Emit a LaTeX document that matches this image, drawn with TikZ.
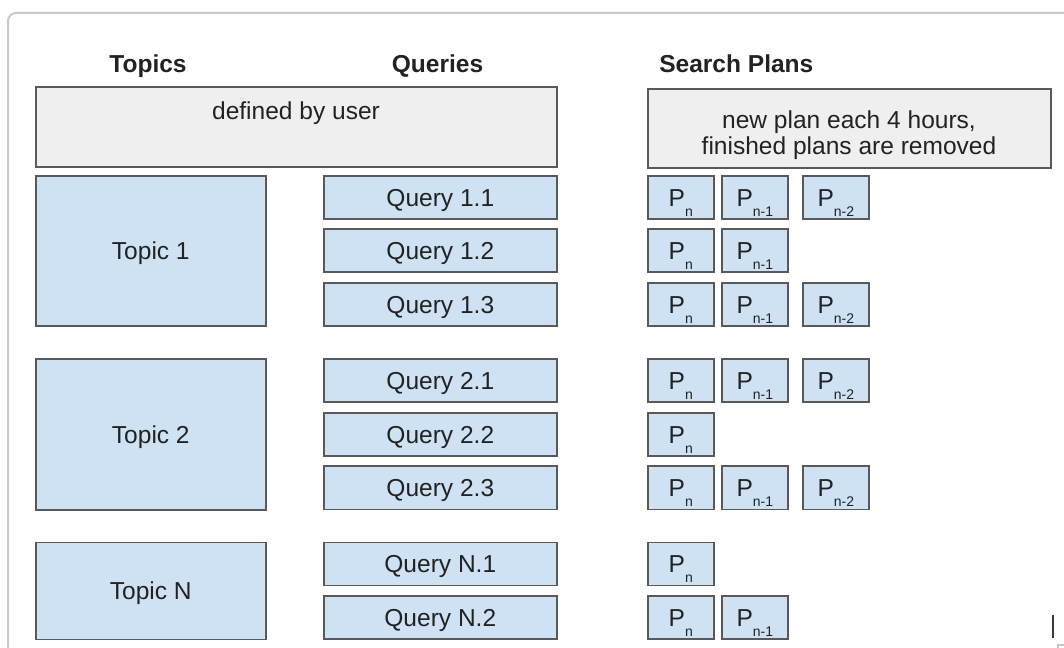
\documentclass[tikz,border=0pt]{standalone}
\usepackage{fontspec}
\setmainfont{Liberation Sans}
\definecolor{boxblue}{HTML}{CFE2F3}
\definecolor{boxgray}{HTML}{EFEFEF}
\definecolor{edge}{HTML}{595959}
\definecolor{ink}{HTML}{222222}
\definecolor{frame}{HTML}{C8C8C8}
% box with top-left corner (#3,#4), size #5 x #6 in pixel units
\newcommand\rbox[7]{\node[#1, anchor=north west, minimum width={#5*0.75pt}, minimum height={#6*0.75pt}] (#2) at (#3,#4) {#7};}
% lowered plan index
\newcommand\psub[1]{\raisebox{-7.5pt}{\fontsize{10.5}{12}\selectfont #1}}
\begin{document}
\begin{tikzpicture}[x=0.75pt,y=-0.75pt,
  txt/.style={font=\fontsize{18.4}{19.5}\selectfont, text=ink, inner sep=0pt},
  head/.style={txt, font=\fontsize{18.4}{22}\selectfont\bfseries, text height=13.2pt, text depth=0pt},
  box/.style={draw=edge, line width=1.2pt, fill=boxblue, inner sep=0pt, text=ink,
    font=\fontsize{18.4}{22}\selectfont, text height=13.2pt, text depth=0pt},
  notebox/.style={box, fill=boxgray},
  pbox/.style={box}]
\useasboundingbox (0,0) rectangle (1064,648);
\clip (0,0) rectangle (1064,648);
% outer panel
\draw[frame, line width=1.5pt, rounded corners=6pt] (8,13) rectangle (1100,700);

% column headers
\node[head] (hTopics) at (148,63.5) {Topics};
\node[head] (hQueries) at (437.5,63.5) {Queries};
\node[head, anchor=west] (hPlans) at (659,63.5) {Search Plans};

% notes
\rbox{notebox}{nUser}{35}{86}{521}{80}{}
\node[txt, anchor=base] (tUser) at (296,120) {defined by user};
\rbox{notebox}{nPlans}{647}{88}{403}{79}{}
\node[txt, anchor=north, align=center] (tPlans) at (849,110) {new plan each 4 hours,\\finished plans are removed};

% topics
\rbox{box}{t1}{35}{175}{230}{150.5}{Topic 1}
\rbox{box}{t2}{35}{358.5}{230}{150.5}{Topic 2}
\rbox{box}{tN}{35}{541.5}{230}{97}{Topic N}

% queries and their search plans
\foreach \nm/\y/\t/\k in {q11/175/1.1/3, q12/228.5/1.2/2, q13/282/1.3/3,
                          q21/358.5/2.1/3, q22/412/2.2/1, q23/465.5/2.3/3,
                          qN1/541.5/N.1/1, qN2/595/N.2/2}{
  \rbox{box}{\nm}{323}{\y}{233}{43}{Query \t}
  \rbox{pbox}{\nm p1}{647}{\y}{66}{43}{P\psub{n}}
  \ifnum\k>1 \rbox{pbox}{\nm p2}{721}{\y}{66}{43}{P\psub{n-1}}\fi
  \ifnum\k>2 \rbox{pbox}{\nm p3}{802}{\y}{66}{43}{P\psub{n-2}}\fi
}

% text cursor and corner mark
\draw[ink!90, line width=1.4pt] (1053,615) -- (1053,638);
\draw[frame, line width=1pt] (1058,648) -- (1058,645) -- (1064,645);
\end{tikzpicture}
\end{document}
